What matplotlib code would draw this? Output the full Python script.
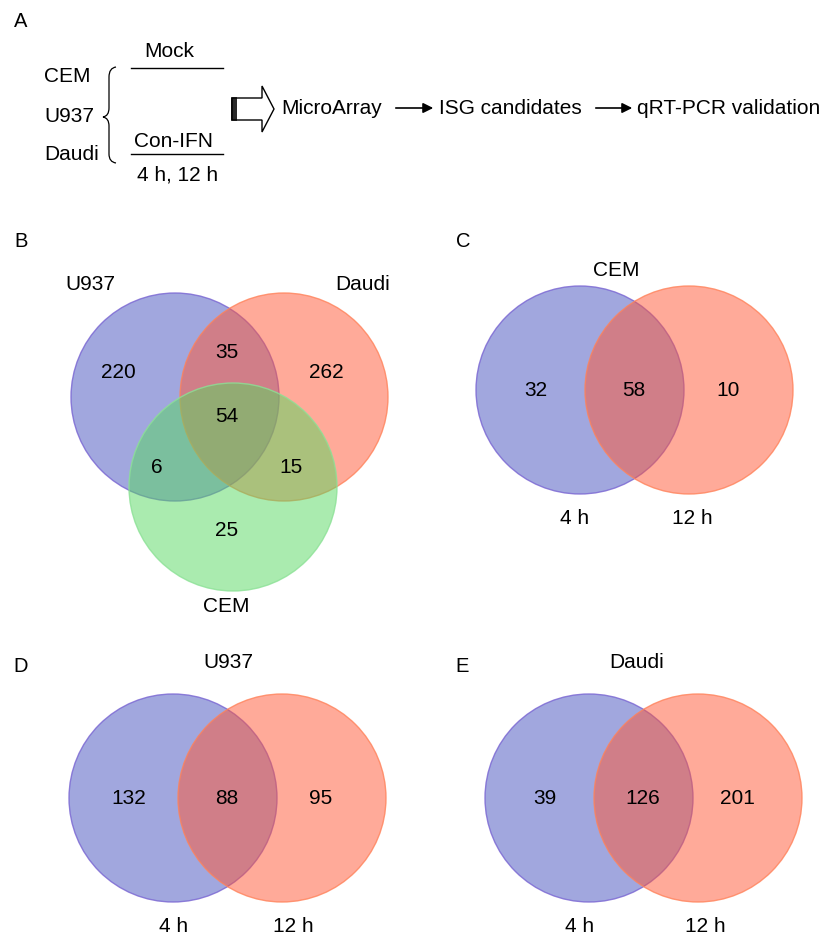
import matplotlib
matplotlib.use("Agg")
import matplotlib.pyplot as plt
from matplotlib.patches import Circle, Polygon, PathPatch
from matplotlib.path import Path

plt.rcParams['font.family'] = ['Liberation Sans', 'DejaVu Sans']

# gene counts per region
three_way_names = ['U937', 'Daudi', 'CEM']
three_way_counts = [220, 35, 262, 54, 6, 15, 25]   # U only, U&D, D only, all, U&C, D&C, C only
cem_counts = [32, 58, 10]       # 4 h only, both, 12 h only
u937_counts = [132, 88, 95]
daudi_counts = [39, 126, 201]
time_labels = ['4 h', '12 h']
cell_lines = ['CEM', 'U937', 'Daudi']
pipeline = ['MicroArray', 'ISG candidates', 'qRT-PCR validation']

BLUE = (68/255, 80/255, 190/255)
RED = (1.0, 86/255, 52/255)
GREEN = (86/255, 216/255, 96/255)
BLUE_EDGE = (120/255, 100/255, 210/255)
RED_EDGE = (1.0, 130/255, 90/255)
GREEN_EDGE = (140/255, 225/255, 150/255)

FS = 15

fig = plt.figure(figsize=(8.28, 9.36), dpi=100)
ax = fig.add_axes([0, 0, 1, 1])
ax.set_xlim(0, 828)
ax.set_ylim(936, 0)
ax.set_aspect('equal')
ax.axis('off')

R = 104


def circle(x, y, face, edge):
    ax.add_patch(Circle((x, y), R, facecolor=face, alpha=0.5, edgecolor='none'))
    ax.add_patch(Circle((x, y), R, facecolor='none', edgecolor=edge, lw=1.0, alpha=0.8))


def txt(x, y, s, size=FS, **kw):
    ax.text(x, y, s, fontsize=size, ha='center', va='center', **kw)


def two_way(cx, cy, counts, title, title_xy, time_xs):
    circle(cx, cy, BLUE, BLUE_EDGE)
    circle(cx + 109, cy, RED, RED_EDGE)
    xs = [cx - 44, cx + 54, cx + 148]
    for x, n in zip(xs, counts):
        txt(x, cy, str(n))
    txt(title_xy[0], title_xy[1], title)
    for x, s in zip(time_xs, time_labels):
        txt(x, cy + 129, s)


# ---- panel A: workflow ----
txt(21, 21, 'A', size=14.5)
for y, s in zip([76, 116, 154], cell_lines):
    ax.text(44, y, s, fontsize=FS, ha='left', va='center')

brace = Path([(116, 67), (109, 68), (109, 77), (109, 108), (109, 116), (103, 117),
              (109, 118), (109, 126), (109, 154), (109, 162), (116, 163)],
             [Path.MOVETO, Path.CURVE3, Path.CURVE3, Path.LINETO, Path.CURVE3, Path.CURVE3,
              Path.CURVE3, Path.CURVE3, Path.LINETO, Path.CURVE3, Path.CURVE3])
ax.add_patch(PathPatch(brace, facecolor='none', edgecolor='black', lw=0.9))

txt(169, 51, 'Mock')
ax.plot([131, 223], [68, 68], color='black', lw=1.0)
txt(174, 141, 'Con-IFN')
ax.plot([131, 223], [154, 154], color='black', lw=1.0)
txt(178, 175, '4 h, 12 h')

# hollow block arrow
ax.add_patch(Polygon([(232, 98), (262, 98), (262, 86), (274, 109), (262, 132),
                      (262, 120), (232, 120)], closed=True,
                     facecolor='white', edgecolor='black', lw=1.0))
for x in (232, 234, 236):
    ax.plot([x, x], [98, 120], color='black', lw=1.2)

ax.text(281, 108, pipeline[0], fontsize=FS, ha='left', va='center')
ax.annotate('', xy=(436, 108), xytext=(393, 108),
            arrowprops=dict(arrowstyle='-|>', color='black', lw=1.2, mutation_scale=15))
ax.text(439, 108, pipeline[1], fontsize=FS, ha='left', va='center')
ax.annotate('', xy=(635, 108), xytext=(593, 108),
            arrowprops=dict(arrowstyle='-|>', color='black', lw=1.2, mutation_scale=15))
ax.text(637, 108, pipeline[2], fontsize=FS, ha='left', va='center')

# ---- panel B: three cell lines ----
txt(21, 241, 'B', size=14.5)
circle(175, 397, BLUE, BLUE_EDGE)
circle(284, 397, RED, RED_EDGE)
circle(233, 487, GREEN, GREEN_EDGE)
b_pos = [(118, 372), (227, 353), (326, 372), (227, 417), (157, 467), (291, 467), (227, 531)]
for (x, y), n in zip(b_pos, three_way_counts):
    txt(x, y, str(n))
txt(90, 284, three_way_names[0])
txt(363, 284, three_way_names[1])
txt(226, 607, three_way_names[2])

# ---- panels C, D, E: 4 h vs 12 h ----
txt(463, 241, 'C', size=14.5)
two_way(580, 390, cem_counts, 'CEM', (616, 270), (575, 692))

txt(21, 667, 'D', size=14.5)
two_way(173, 798, u937_counts, 'U937', (228, 662), (174, 293))

txt(462, 667, 'E', size=14.5)
two_way(589, 798, daudi_counts, 'Daudi', (637, 662), (580, 705))

fig.savefig('out.png', dpi=100)
